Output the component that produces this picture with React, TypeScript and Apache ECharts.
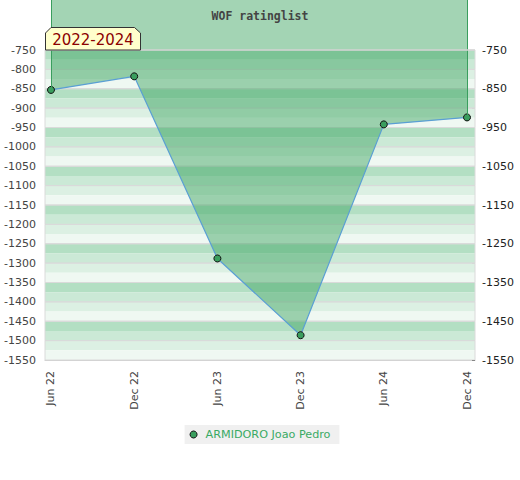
import React, { useEffect, useRef } from "react";
import * as echarts from "echarts";

const months = ["Jun 22", "Dec 22", "Jun 23", "Dec 23", "Jun 24", "Dec 24"];
const ratings = [-853, -818, -1288, -1486, -942, -924];
const leftTicks = [-750, -800, -850, -900, -950, -1000, -1050, -1100, -1150, -1200, -1250, -1300, -1350, -1400, -1450, -1500, -1550];
const rightLabels = [-750, -850, -950, -1050, -1150, -1250, -1350, -1450, -1550];
const bandTops = [-750, -850, -950, -1050, -1150, -1250, -1350, -1450];
const bandColors = ["#b3dfc3", "#cbe9d6", "#dcf0e3", "#eff8f2"];
const seriesName = "ARMIDORO Joao Pedro";
const titleText = "WOF ratinglist";
const periodText = "2022-2024";

const Y_MIN = -1550;
const Y_PLOT_TOP = -750;
// grid extends above the plot area by 50px (plot 310px tall for 800 units)
const Y_MAX = Y_MIN + (800 * 360) / 310;
const X_MIN = -0.072;
const X_MAX = 5.096;

export default function App() {
  const ref = useRef<HTMLDivElement>(null);
  useEffect(() => {
    if (!ref.current) return;
    const chart = echarts.init(ref.current, null, { renderer: "svg" });

    const bands: any[] = [];
    bandTops.forEach((top) => {
      bandColors.forEach((c, i) => {
        bands.push([
          { yAxis: top - 25 * i, itemStyle: { color: c } },
          { yAxis: top - 25 * (i + 1) },
        ]);
      });
    });
    // grid-line frames every 50
    for (let i = 0; i < leftTicks.length - 1; i++) {
      bands.push([
        {
          yAxis: leftTicks[i],
          itemStyle: { color: "rgba(0,0,0,0)", borderColor: "#dadada", borderWidth: 1 },
        },
        { yAxis: leftTicks[i + 1] },
      ]);
    }

    const last = ratings.length - 1;
    const fmt = (v: number) => String(v);

    chart.setOption({
      animation: false,
      textStyle: { fontFamily: "DejaVu Sans" },
      title: {
        text: titleText,
        left: "center",
        top: 5,
        textStyle: {
          fontFamily: "DejaVu Sans Mono",
          fontWeight: "bold",
          fontSize: 11.5,
          color: "#444",
        },
      },
      grid: { left: 45, right: 45, top: 0, bottom: 120 },
      xAxis: {
        type: "value",
        min: X_MIN,
        max: X_MAX,
        axisLine: { show: true, lineStyle: { color: "#cccccc" } },
        axisTick: { show: false },
        splitLine: { show: false },
        axisLabel: {
          customValues: months.map((_, i) => i),
          formatter: (v: number) => months[Math.round(v)] ?? "",
          rotate: 90,
          margin: 11,
          fontSize: 11,
          color: "#444",
        },
      },
      yAxis: [
        {
          type: "value",
          min: Y_MIN,
          max: Y_MAX,
          position: "left",
          axisLine: { show: false },
          axisTick: { show: false },
          splitLine: { show: false },
          axisLabel: {
            customValues: leftTicks,
            formatter: fmt,
            margin: 9,
            fontSize: 11,
            color: "#444",
          },
        },
        {
          type: "value",
          min: Y_MIN,
          max: Y_MAX,
          position: "right",
          axisLine: { show: false },
          axisTick: {
            show: true,
            inside: true,
            length: 3,
            customValues: leftTicks,
            lineStyle: { color: "#333" },
          },
          splitLine: { show: false },
          axisLabel: {
            customValues: rightLabels,
            formatter: fmt,
            margin: 7,
            fontSize: 11,
            color: "#222",
          },
        },
      ],
      legend: {
        data: [seriesName],
        top: 425,
        left: "center",
        icon: "circle",
        itemWidth: 14,
        itemHeight: 7,
        itemGap: 10,
        padding: [4, 9, 4, 5],
        backgroundColor: "#f0f0f0",
        itemStyle: { color: "#3a9e5e", borderColor: "#111", borderWidth: 1 },
        textStyle: { color: "#3aaa64", fontSize: 11.2 },
      },
      series: [
        {
          name: seriesName,
          type: "line",
          data: ratings.map((v, i) => [i, v]),
          symbol: "circle",
          symbolSize: 7,
          itemStyle: { color: "#3a9e5e", borderColor: "#111", borderWidth: 1 },
          lineStyle: { color: "#5a9fd4", width: 1.2 },
          areaStyle: { origin: "end", color: "rgb(63,165,99)", opacity: 0.48 },
          z: 3,
          markArea: { silent: true, z: 1, data: bands },
          markLine: {
            silent: true,
            symbol: "none",
            label: { show: false },
            data: [
              [
                { coord: [0, Y_MAX], lineStyle: { color: "#3a9e5e", width: 1, type: "solid" } },
                { coord: [0, ratings[0]] },
              ],
              [
                { coord: [last, Y_MAX], lineStyle: { color: "#3a9e5e", width: 1, type: "solid" } },
                { coord: [last, ratings[last]] },
              ],
              {
                yAxis: Y_PLOT_TOP,
                lineStyle: { color: "#d6d6d6", width: 1.5, type: "solid" },
              },
            ],
          },
        },
      ],
      graphic: [
        {
          type: "polygon",
          z: 100,
          shape: {
            points: [
              [45.5, 50],
              [45.5, 33],
              [51, 27.5],
              [134.5, 27.5],
              [140.5, 33],
              [140.5, 50],
            ],
          },
          style: { fill: "#ffffcc", stroke: "#333", lineWidth: 1 },
        },
        {
          type: "text",
          z: 101,
          x: 93,
          y: 40,
          style: {
            text: periodText,
            fill: "#8b0000",
            font: "15px 'DejaVu Sans'",
            align: "center",
            verticalAlign: "middle",
          },
        },
      ],
    });
    return () => chart.dispose();
  }, []);
  return (
    <div
      ref={ref}
      style={{ position: "absolute", left: 0, top: 0, width: 520, height: 480 }}
    />
  );
}
